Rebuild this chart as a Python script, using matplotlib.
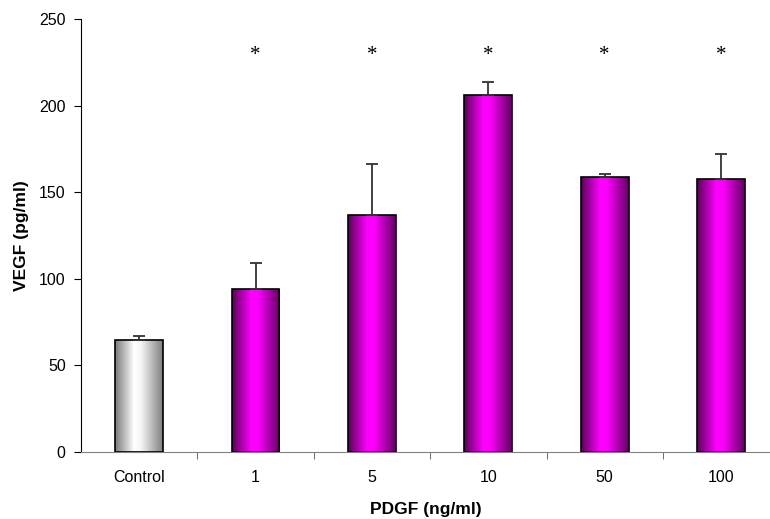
import matplotlib
matplotlib.use("Agg")
import matplotlib.pyplot as plt
import numpy as np
from matplotlib.colors import LinearSegmentedColormap

categories = ["Control", "1", "5", "10", "50", "100"]
vegf = [64.5, 94, 137, 206, 159, 157.5]
err = [2.5, 15, 29, 7.5, 1.3, 14.5]
star = [False, True, True, True, True, True]
star_y = 229

plt.rcParams['font.family'] = ['Liberation Sans', 'DejaVu Sans']

fig = plt.figure(figsize=(7.7, 5.19), dpi=100)
ax = fig.add_axes([81 / 770, 67 / 519, 1 - 81 / 770, 433 / 519])

grey = LinearSegmentedColormap.from_list(
    "g", [(0, "#7a7a7a"), (0.4, "#ffffff"), (0.55, "#f4f4f4"), (1, "#7f7f7f")])
mag = LinearSegmentedColormap.from_list(
    "m", [(0, "#5a005a"), (0.4, "#ff00ff"), (0.55, "#fa00fa"), (1, "#600060")])

w = 0.41
grad = np.linspace(0, 1, 256).reshape(1, -1)
for i, (v, e) in enumerate(zip(vegf, err)):
    cm = grey if i == 0 else mag
    bar = ax.bar(i, v, width=w, color="none", edgecolor="black", linewidth=1.2, zorder=3)[0]
    im = ax.imshow(grad, cmap=cm, aspect="auto",
                   extent=[i - w / 2, i + w / 2, 0, v], zorder=2)
    im.set_clip_path(bar)
    ax.errorbar(i, v, yerr=[[0], [e]], fmt="none", ecolor="#333333",
                elinewidth=1.3, capsize=4, capthick=1.3, zorder=4)
    if star[i]:
        ax.text(i, star_y, "*", ha="center", va="center", fontsize=15,
                family="Liberation Serif")

ax.set_xlim(-0.5, 5.42)
ax.set_ylim(0, 250)
ax.set_yticks([0, 50, 100, 150, 200, 250])
ax.set_xticks(range(len(categories)))
ax.set_xticklabels(categories)
ax.set_xticks(np.arange(0.5, 5.0, 1), minor=True)
ax.tick_params(axis="x", which="major", length=0, pad=13, labelsize=11.5)
ax.tick_params(axis="x", which="minor", length=5, color="#555555")
ax.tick_params(axis="y", length=5, pad=6, labelsize=11.5)

ax.spines["top"].set_visible(False)
ax.spines["right"].set_visible(False)
ax.spines["bottom"].set_color("#808080")

ax.set_xlabel("PDGF (ng/ml)", fontweight="bold", fontsize=12.5, labelpad=12)
ax.set_ylabel("VEGF (pg/ml)", fontweight="bold", fontsize=12.5, labelpad=7)

fig.savefig("out.png", dpi=100)
